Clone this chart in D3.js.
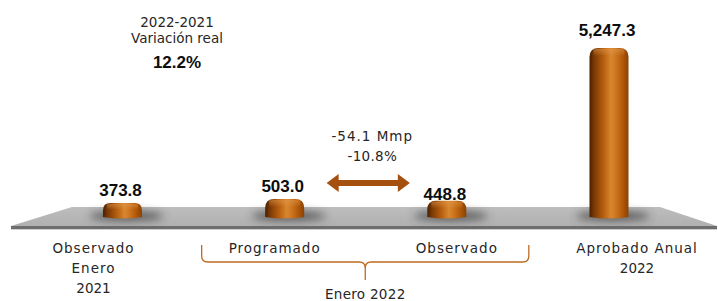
<!DOCTYPE html>
<html><head><meta charset="utf-8">
<script src="https://cdn.jsdelivr.net/npm/d3@7"></script>
<style>
html,body{margin:0;padding:0;background:#fff;}
svg{display:block;}
.lbl{font-family:"DejaVu Sans",sans-serif;font-size:13.5px;fill:#262626;}
.val{font-family:"Liberation Sans",Arial,sans-serif;font-weight:bold;font-size:17px;fill:#0d0d0d;}
</style></head>
<body>
<svg id="chart" width="718" height="301"></svg>
<script>
const categories = ["Observado Enero 2021", "Programado", "Observado", "Aprobado Anual 2022"];
const catLines = [["Observado", "Enero", "2021"], ["Programado"], ["Observado"], ["Aprobado Anual", "2022"]];
const values = [373.8, 503.0, 448.8, 5247.3];
const valueLabels = ["373.8", "503.0", "448.8", "5,247.3"];
const groupLabel = "Enero 2022";
const variationLines = ["2022-2021", "Variación real"];
const variationValue = "12.2%";
const diffLines = ["-54.1 Mmp", "-10.8%"];

const labelDx = [-29, -10, 10, 28];
const valueDy = [0, 0, 6, -5];

const svg = d3.select("#chart");
const W = 718, H = 301;
const x = d3.scalePoint().domain(categories).range([122.5, 609]);
const y = d3.scaleLinear().domain([0, 5247.3]).range([215, 48]);
const baseY = 218;
const barW = 39;

const defs = svg.append("defs");
const g1 = defs.append("linearGradient").attr("id", "barGrad").attr("x1", 0).attr("x2", 1).attr("y1", 0).attr("y2", 0);
[[0, "#4a1f00"], [0.12, "#7a3a05"], [0.35, "#b55d0e"], [0.55, "#d8862f"], [0.65, "#d07a24"], [0.85, "#b05808"], [1, "#8a4205"]]
  .forEach(([o, c]) => g1.append("stop").attr("offset", o).attr("stop-color", c));
const g2 = defs.append("linearGradient").attr("id", "capGrad").attr("x1", 0).attr("x2", 0).attr("y1", 0).attr("y2", 1);
[[0, "#e39a4e"], [1, "rgba(227,154,78,0)"]].forEach(([o, c]) => g2.append("stop").attr("offset", o).attr("stop-color", c));
const floorGrad = defs.append("linearGradient").attr("id", "floorGrad").attr("x1", 0).attr("x2", 0).attr("y1", 0).attr("y2", 1);
[[0, "#bdbdbd"], [1, "#b0b0b0"]].forEach(([o, c]) => floorGrad.append("stop").attr("offset", o).attr("stop-color", c));
defs.append("filter").attr("id", "blur").attr("x", "-50%").attr("y", "-100%").attr("width", "200%").attr("height", "300%")
  .append("feGaussianBlur").attr("stdDeviation", 4);

// floor
const x0 = x(categories[0]), x3 = x(categories[3]);
svg.append("polygon")
  .attr("points", [[x0 - 50.5, 207], [x3 + 51, 207], [W - 1, 226], [x0 - 111.5, 226]].join(" "))
  .attr("fill", "url(#floorGrad)");
svg.append("rect").attr("x", x0 - 111.5).attr("y", 226).attr("width", W - 1 - (x0 - 111.5)).attr("height", 3).attr("fill", "#6e6e6e");
svg.append("rect").attr("x", x0 - 111.5).attr("y", 229).attr("width", W - 1 - (x0 - 111.5)).attr("height", 1).attr("fill", "#cfcfcf");

// shadows
svg.selectAll("ellipse.sh").data(values).enter().append("ellipse")
  .attr("class", "sh")
  .attr("cx", (d, i) => x(categories[i]) + 4)
  .attr("cy", baseY - 2)
  .attr("rx", barW * 0.95)
  .attr("ry", 5)
  .attr("fill", "#3a3a3a")
  .attr("opacity", 0.75)
  .attr("filter", "url(#blur)");

// bars
function barPath(cx, top, bottom, w) {
  const l = cx - w / 2, r = cx + w / 2;
  const rr = Math.min(9, (bottom - top) / 2);
  return `M${l},${bottom - 1} L${l},${top + rr} Q${l},${top} ${l + rr},${top} L${r - rr},${top} Q${r},${top} ${r},${top + rr} L${r},${bottom - 1} Q${cx},${bottom + 2} ${l},${bottom - 1} Z`;
}
svg.selectAll("path.bar").data(values).enter().append("path")
  .attr("class", "bar")
  .attr("d", (d, i) => barPath(x(categories[i]), y(d), baseY, barW))
  .attr("fill", "url(#barGrad)");
svg.selectAll("path.cap").data(values).enter().append("path")
  .attr("class", "cap")
  .attr("d", (d, i) => {
    const cx = x(categories[i]), t = y(d);
    const h = Math.min(8, (baseY - t) * 0.45);
    return `M${cx - barW / 2 + 4},${t + h} Q${cx},${t + h - 2} ${cx + barW / 2 - 4},${t + h} L${cx + barW / 2 - 4},${t + 1.5} Q${cx},${t - 0.5} ${cx - barW / 2 + 4},${t + 1.5} Z`;
  })
  .attr("fill", "url(#capGrad)")
  .attr("opacity", 0.55);

// value labels
svg.selectAll("text.val").data(values).enter().append("text")
  .attr("class", "val")
  .attr("x", (d, i) => x(categories[i]) - 2)
  .attr("y", (d, i) => y(d) - 7 + valueDy[i])
  .attr("text-anchor", "middle")
  .text((d, i) => valueLabels[i]);

// category labels
categories.forEach((c, i) => {
  const t = svg.append("text").attr("class", "lbl").attr("text-anchor", "middle");
  catLines[i].forEach((ln, j) => {
    t.append("tspan").attr("x", x(c) + labelDx[i]).attr("y", 253 + j * 20)
      .style("letter-spacing", /^\d+$/.test(ln) ? "0px" : "1px")
      .text(ln);
  });
});

// bracket
const bl = x(categories[1]) - 83, br = x(categories[2]) + 82, bm = (bl + br) / 2;
svg.append("path")
  .attr("d", `M${bl},245 L${bl},256 Q${bl},262 ${bl + 6},262 L${bm - 6},262 Q${bm},262 ${bm},268 L${bm},280 M${bm},268 Q${bm},262 ${bm + 6},262 L${br - 6},262 Q${br},262 ${br},256 L${br},245`)
  .attr("fill", "none").attr("stroke", "#bf6a22").attr("stroke-width", 1.3);
svg.append("text").attr("class", "lbl").attr("x", bm).attr("y", 299).attr("text-anchor", "middle")
  .style("letter-spacing", "0.3px").text(groupLabel);

// arrow
const al = x(categories[1]) + 42, ar = x(categories[2]) - 37, ay = 183;
svg.append("path")
  .attr("d", `M${al},${ay} L${al + 12},${ay - 9} L${al + 12},${ay - 3} L${ar - 12},${ay - 3} L${ar - 12},${ay - 9} L${ar},${ay} L${ar - 12},${ay + 9} L${ar - 12},${ay + 3} L${al + 12},${ay + 3} L${al + 12},${ay + 9} Z`)
  .attr("fill", "#a5500e");
const am = (al + ar) / 2 + 4;
diffLines.forEach((ln, j) => {
  svg.append("text").attr("class", "lbl").attr("x", am).attr("y", 141 + j * 20).attr("text-anchor", "middle")
    .style("letter-spacing", j === 0 ? "1px" : "0.3px").text(ln);
});

// variation annotation
const vx = 177;
variationLines.forEach((ln, j) => {
  svg.append("text").attr("class", "lbl").attr("x", vx).attr("y", 27 + j * 16).attr("text-anchor", "middle").text(ln);
});
svg.append("text").attr("class", "val").attr("x", vx).attr("y", 68).attr("text-anchor", "middle").text(variationValue);
</script>
</body></html>
